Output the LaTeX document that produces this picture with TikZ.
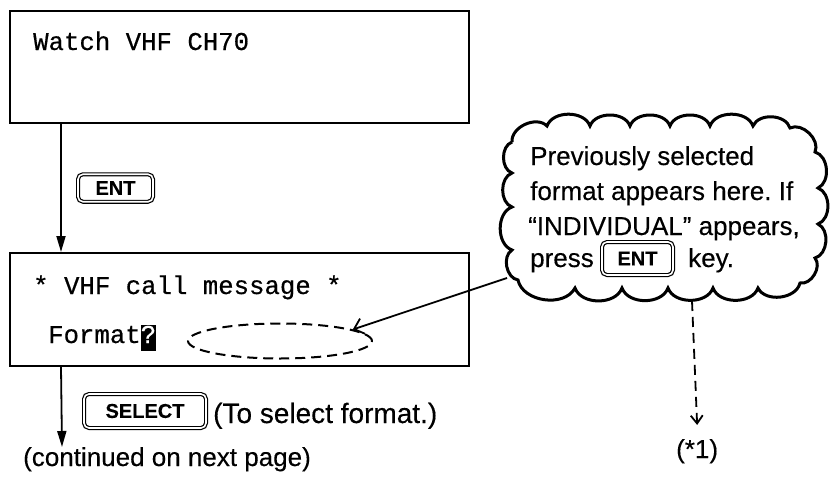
\documentclass[tikz,border=0pt]{standalone}
\usepackage{fontspec}
\newfontfamily\helv[FakeBold=0.3]{Liberation Sans}
\newfontfamily\cour[FakeBold=0.5]{Liberation Mono}
\usetikzlibrary{arrows.meta,positioning,shapes.geometric}
\frenchspacing

% inverse cursor cell on the display
\newcommand{\curs}[1]{\makebox[0pt][l]{\rule[-8pt]{15.4pt}{26pt}}\textcolor{white}{#1}}

\begin{document}
\begin{tikzpicture}[x=1pt,y=-1pt,
  screen/.style={draw,line width=2pt,minimum width=459pt,minimum height=112pt,inner sep=0pt},
  mono/.style={font=\cour\fontsize{25.7}{30}\selectfont,inner sep=0pt,anchor=base west},
  note/.style={font=\helv\fontsize{26}{33}\selectfont,inner sep=0pt,anchor=base west},
  keycap/.style={draw,double,line width=1.2pt,double distance=1.6pt,rounded corners=5pt,
    font=\helv\bfseries\fontsize{20}{24}\selectfont,inner sep=0pt},
  flow/.style={line width=1.8pt,-{Triangle[length=16pt,width=9pt]}},
  barb/.style={line width=1.8pt,-{Straight Barb[length=9pt,width=16pt]}}]

  \useasboundingbox (0,0) rectangle (830,482);

  % Display screens
  \node[screen] (scrA) at (239.5,67) {};
  \node[mono] (watch) at (33,50) {Watch VHF CH70};
  \node[screen,minimum height=113pt] (scrB) at (239.5,309.5) {};
  \node[mono] (title) at (33,294) {* VHF call message *};
  \node[mono] (fmt) at (48,343) {Format\curs{?}};
  \node[ellipse,draw,dashed,dash pattern=on 10pt off 6pt,line width=2pt,
    minimum width=184pt,minimum height=35pt,inner sep=0pt] (slot) at (280,341) {};

  % Keys and flow arrows
  \node[keycap,minimum width=75pt,minimum height=27.5pt] (entA) at (115.5,188) {ENT};
  \draw[flow] ([xshift=52pt]scrA.south west) -- ([xshift=52pt]scrB.north west);
  \node[keycap,minimum width=122pt,minimum height=34pt] (selkey) at (145,411) {SELECT};
  \node[note,font=\helv\fontsize{28}{33}\selectfont] (selnote) at (213,423) {(To select format.)};
  \coordinate (cont) at (62,447);
  \draw[flow] ([xshift=52pt]scrB.south west) -- (cont);
  \node[note] (next) at (23,466) {(continued on next page)};

  % Cloud with explanation
  \draw[line width=3pt,line join=miter] (512,142)
    \foreach \x/\y in {547/126,590/126,630/126,670/126,710/126,753/126,790/128,
      815/152,818/188,818/224,815/258,800/283,758/288,713/288,
      668/288,622/288,575/288,518/280,512/250,512/207,512/173,512/142}
    { to[bend left=70] (\x,\y) };
  \node[note] (ln1) at (530,165) {Previously selected};
  \node[note] (ln2) at (530,200) {format appears here. If};
  \node[note] (ln3) at (528,235) {“INDIVIDUAL” appears,};
  \node[note] (press) at (530,267) {press};
  \node[keycap,minimum width=71pt,minimum height=33pt] (entB) at (637.5,258.5) {ENT};
  \node[note] (keyword) at (688,267) {key.};

  % Pointer to the format field and reference mark
  \coordinate (cloudtip) at (507,278);
  \draw[barb] (cloudtip) -- (slot.9);
  \coordinate (cloudbot) at (692,301);
  \node[note] (ref) at (676,458) {(*1)};
  \draw[barb,dash pattern=on 10pt off 6pt,-{Straight Barb[length=8pt,width=12pt]}]
    (cloudbot) -- ([yshift=14pt]ref.north);

\end{tikzpicture}
\end{document}
